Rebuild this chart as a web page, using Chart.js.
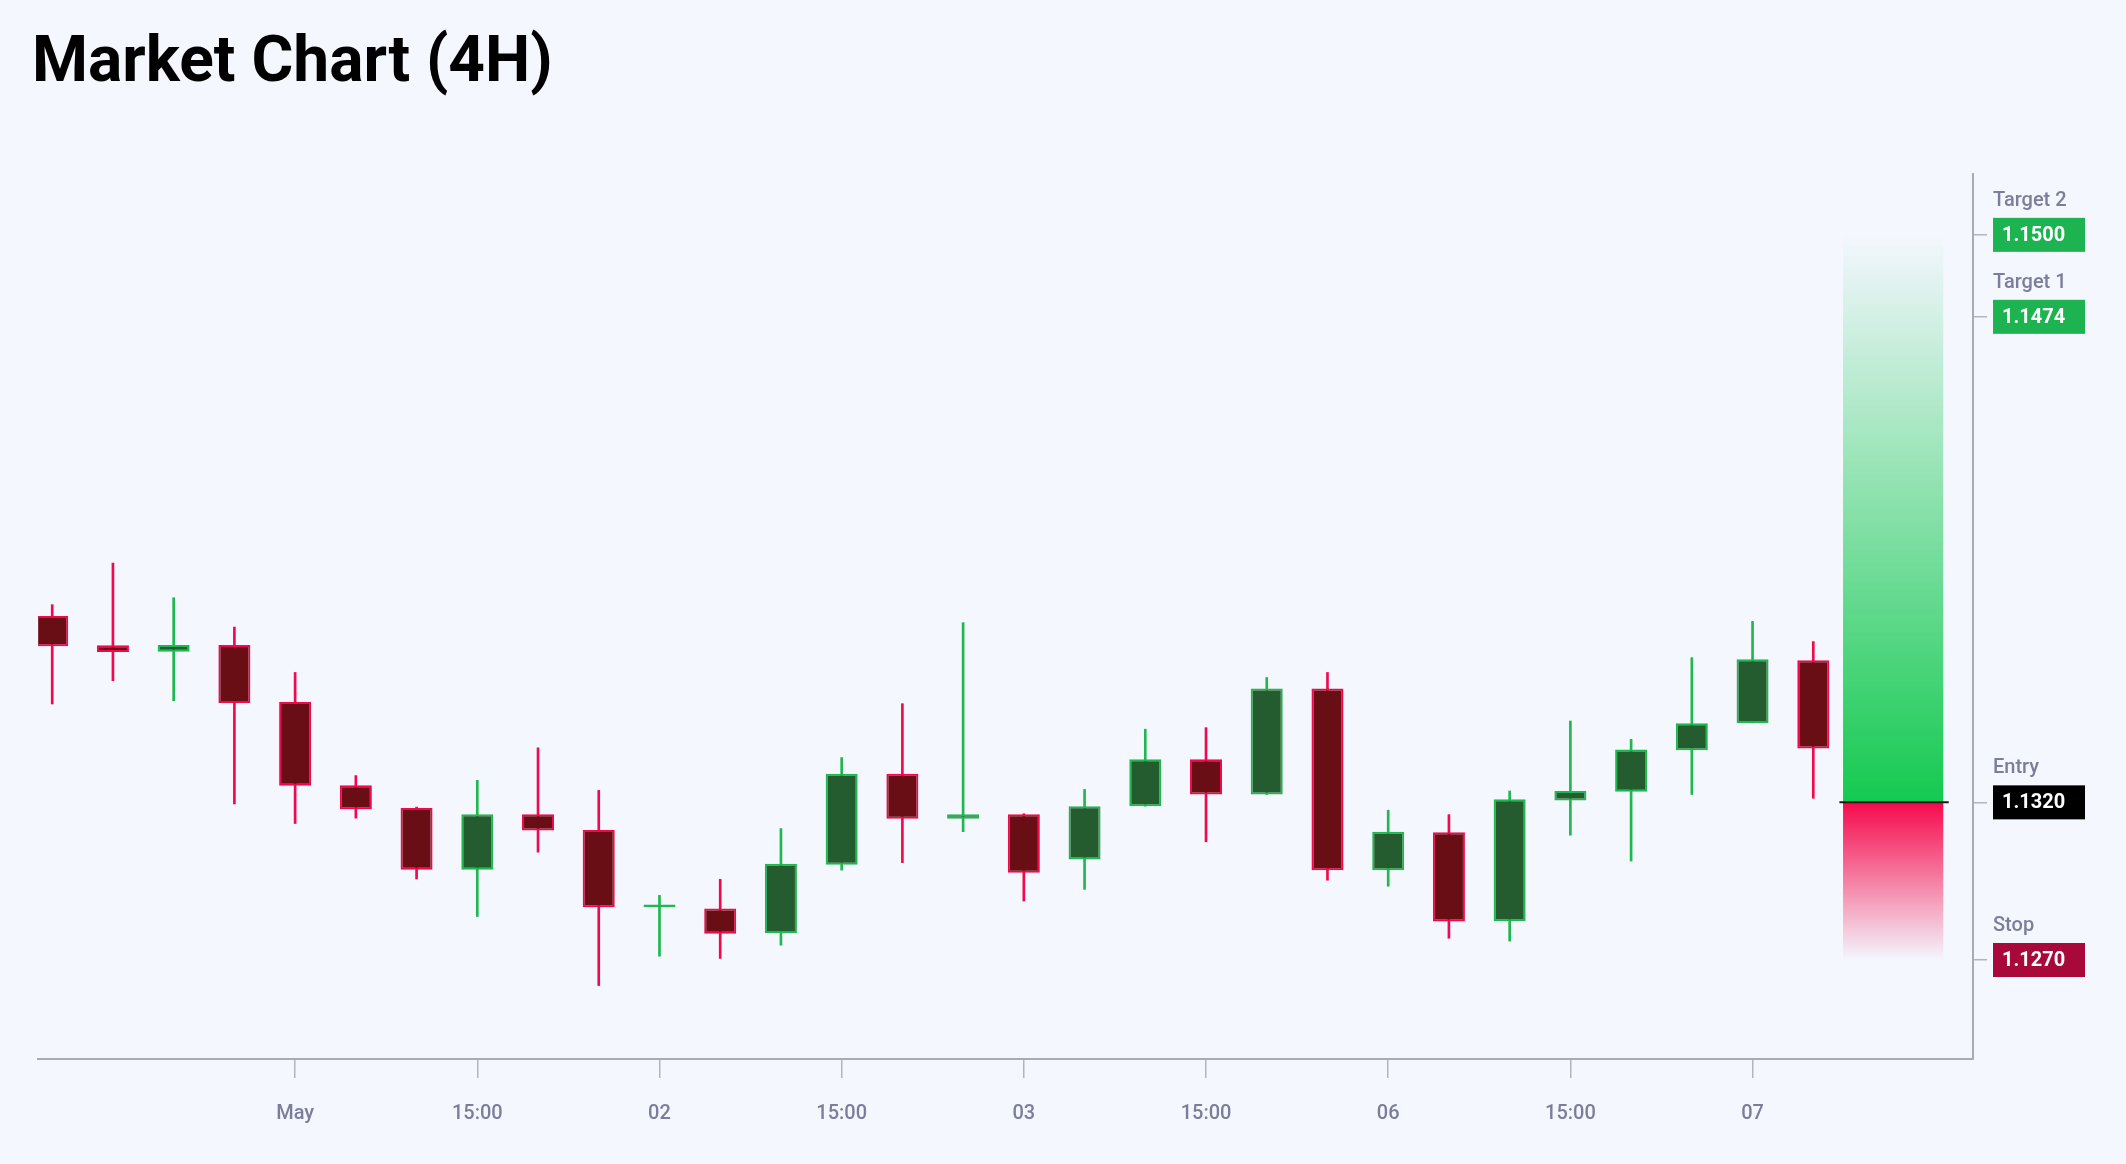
<!DOCTYPE html>
<html><head><meta charset="utf-8">
<script src="https://cdn.jsdelivr.net/npm/chart.js@4.4.1/dist/chart.umd.min.js"></script>
<style>
html,body{margin:0;padding:0;background:#f4f7fe;}
#wrap{width:2126px;height:1164px;position:relative;}
#title{position:absolute;left:32px;top:28px;font-family:Roboto,sans-serif;font-weight:700;font-size:64px;line-height:1;color:#000;white-space:nowrap;}
</style>
</head><body>
<div id="wrap"><div id="title">Market Chart (4H)</div><canvas id="c"></canvas></div>
<script>
// ---- data ----
const times = [
  '04-30 11:00','04-30 15:00','04-30 19:00','04-30 23:00',
  '05-01 03:00','05-01 07:00','05-01 11:00','05-01 15:00','05-01 19:00','05-01 23:00',
  '05-02 03:00','05-02 07:00','05-02 11:00','05-02 15:00','05-02 19:00','05-02 23:00',
  '05-03 03:00','05-03 07:00','05-03 11:00','05-03 15:00','05-03 19:00','05-03 23:00',
  '05-06 03:00','05-06 07:00','05-06 11:00','05-06 15:00','05-06 19:00','05-06 23:00',
  '05-07 03:00','05-07 07:00'
];
const opens  = [1.13791,1.13698,1.13678,1.13699,1.13518,1.13254,1.13182,1.12986,1.13162,1.13112,
                1.12868,1.12863,1.12786,1.13002,1.13291,1.13148,1.13162,1.13019,1.13188,1.13337,
                1.13225,1.13561,1.12985,1.13105,1.12823,1.13206,1.13234,1.13365,1.13452,1.13651];
const highs  = [1.13827,1.13959,1.13849,1.13756,1.13612,1.13285,1.13185,1.13270,1.13373,1.13238,
                1.12905,1.12956,1.13117,1.13342,1.13513,1.13770,1.13164,1.13241,1.13432,1.13437,
                1.13596,1.13612,1.13175,1.13161,1.13236,1.13458,1.13400,1.13659,1.13774,1.13710];
const lows   = [1.13512,1.13586,1.13522,1.13195,1.13133,1.13150,1.12957,1.12838,1.13042,1.12619,
                1.12712,1.12705,1.12747,1.12985,1.13009,1.13107,1.12887,1.12924,1.13188,1.13075,
                1.13225,1.12953,1.12934,1.12769,1.12760,1.13096,1.13014,1.13225,1.13452,1.13213];
const closes = [1.13695,1.13677,1.13699,1.13515,1.13253,1.13178,1.12986,1.13162,1.13111,1.12867,
                1.12876,1.12783,1.13005,1.13291,1.13148,1.13162,1.12977,1.13188,1.13337,1.13225,
                1.13561,1.12985,1.13107,1.12822,1.13210,1.13236,1.13368,1.13451,1.13654,1.13371];
const tickTimes = ['05-01 03:00','05-01 15:00','05-02 03:00','05-02 15:00','05-03 03:00','05-03 15:00','05-06 03:00','05-06 15:00','05-07 03:00'];
const tickTexts = ['May','15:00','02','15:00','03','15:00','06','15:00','07'];
const levelNames  = ['Target 2','Target 1','Entry','Stop'];
const levelPrices = [1.1500, 1.1474, 1.1320, 1.1270];
const entryPrice = 1.1320, targetPrice = 1.1500, stopPrice = 1.1270;
const yMin = 1.12386, yMax = 1.15193;

// ---- styles ----
const RED_LINE = '#f2084c', RED_FILL = '#680e14';
const GREEN_LINE = '#1fb84e', GREEN_FILL = '#245c2f';
const levelBoxColors = ['#1db350','#1db350','#000000','#a8093a'];
const AXIS_TEXT = '#7b7e9a';
const bull = i => closes[i] >= opens[i];

const zonePlugin = {
  id: 'zones',
  beforeDatasetsDraw(chart) {
    const {ctx, scales: {x, y}} = chart;
    const last = times.length - 1;
    const x0 = x.getPixelForValue(last + 0.49), x1 = x.getPixelForValue(last + 2.14);
    const yE = y.getPixelForValue(entryPrice), yT = y.getPixelForValue(targetPrice), yS = y.getPixelForValue(stopPrice);
    ctx.save();
    let g = ctx.createLinearGradient(0, yE, 0, yT);
    g.addColorStop(0, 'rgba(20,201,80,1)');
    g.addColorStop(1, 'rgba(20,201,80,0)');
    ctx.fillStyle = g;
    ctx.fillRect(x0, yT, x1 - x0, yE - yT);
    g = ctx.createLinearGradient(0, yE, 0, yS);
    g.addColorStop(0, 'rgba(245,10,75,1)');
    g.addColorStop(1, 'rgba(245,10,75,0)');
    ctx.fillStyle = g;
    ctx.fillRect(x0, yE, x1 - x0, yS - yE);
    ctx.restore();
  },
  afterDatasetsDraw(chart) {
    const {ctx, scales: {x, y}} = chart;
    const last = times.length - 1;
    const yE = y.getPixelForValue(entryPrice);
    ctx.save();
    ctx.strokeStyle = '#1a1a1a';
    ctx.lineWidth = 2;
    ctx.beginPath();
    ctx.moveTo(x.getPixelForValue(last + 0.43), yE);
    ctx.lineTo(x.getPixelForValue(last + 2.23), yE);
    ctx.stroke();
    ctx.restore();
  }
};

const levelLabelPlugin = {
  id: 'levelLabels',
  afterDraw(chart) {
    const {ctx, scales: {y}} = chart;
    const bx = y.left + 20;
    ctx.save();
    levelPrices.forEach((p, i) => {
      const yy = y.getPixelForValue(p);
      ctx.font = '500 20px Roboto';
      ctx.fillStyle = AXIS_TEXT;
      ctx.textAlign = 'left';
      ctx.textBaseline = 'alphabetic';
      ctx.fillText(levelNames[i], bx, yy - 29);
      ctx.fillStyle = levelBoxColors[i];
      ctx.fillRect(bx, yy - 17, 92, 34);
      ctx.font = 'bold 20px Roboto';
      ctx.fillStyle = '#ffffff';
      ctx.textBaseline = 'middle';
      ctx.fillText(p.toFixed(4), bx + 9, yy + 1);
    });
    ctx.restore();
  }
};

new Chart(document.getElementById('c'), {
  type: 'bar',
  data: {
    datasets: [
      {
        label: 'body',
        data: times.map((t, i) => ({x: i, y: [opens[i], closes[i]]})),
        backgroundColor: c => bull(c.dataIndex) ? GREEN_FILL : RED_FILL,
        borderColor: c => bull(c.dataIndex) ? GREEN_LINE : RED_LINE,
        borderWidth: 2,
        borderSkipped: false,
        grouped: false,
        barPercentage: 0.527,
        categoryPercentage: 1,
        order: 0
      },
      {
        label: 'wick',
        data: times.map((t, i) => ({x: i, y: [lows[i], highs[i]]})),
        backgroundColor: c => bull(c.dataIndex) ? GREEN_LINE : RED_LINE,
        borderWidth: 0,
        grouped: false,
        barThickness: 2,
        order: 1
      }
    ]
  },
  options: {
    responsive: true,
    maintainAspectRatio: false,
    animation: false,
    layout: {padding: {left: 38, right: 0, top: 174, bottom: 0}},
    plugins: {legend: {display: false}, tooltip: {enabled: false}, title: {display: false}},
    scales: {
      x: {
        type: 'linear',
        min: -0.234,
        max: times.length - 1 + 2.63,
        offset: false,
        grid: {display: true, drawOnChartArea: false, drawTicks: true, tickLength: 19, color: '#b3b4bc', lineWidth: 1.5, offset: false},
        border: {display: true, color: '#a9aab2', width: 2},
        ticks: {
          autoSkip: false, maxRotation: 0, padding: 24, color: AXIS_TEXT,
          font: {family: 'Roboto', size: 20, weight: '500'},
          callback: v => { const k = tickTimes.indexOf(times[v]); return k >= 0 ? tickTexts[k] : null; }
        },
        afterBuildTicks: s => { s.ticks = tickTimes.map(t => ({value: times.indexOf(t)})); },
        afterFit: s => { s.height = 105; }
      },
      y: {
        type: 'linear',
        position: 'right',
        min: yMin,
        max: yMax,
        grid: {display: true, drawOnChartArea: false, drawTicks: true, tickLength: 14, color: '#b3b4bc', lineWidth: 1.5},
        border: {display: true, color: '#a9aab2', width: 2},
        ticks: {display: false},
        afterBuildTicks: s => { s.ticks = levelPrices.map(v => ({value: v})); },
        afterFit: s => { s.width = 153; }
      }
    }
  },
  plugins: [zonePlugin, levelLabelPlugin]
});
</script>
</body></html>
